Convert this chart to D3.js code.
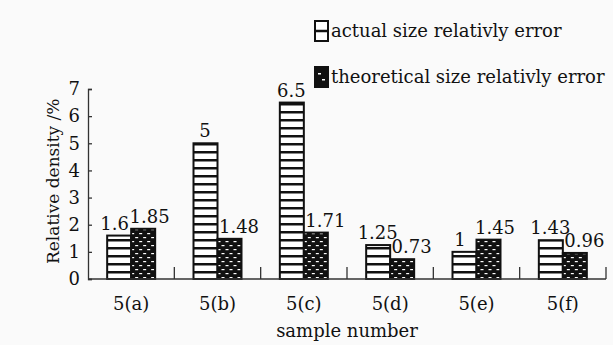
<!DOCTYPE html>
<html>
<head>
<meta charset="utf-8">
<script src="https://cdn.jsdelivr.net/npm/d3@7"></script>
<style>
  body { margin: 0; background: #fafafa; }
  svg { display: block; font-family: 'DejaVu Serif', serif; }
</style>
</head>
<body>
<div id="chart"></div>
<script>
const categories = ['5(a)', '5(b)', '5(c)', '5(d)', '5(e)', '5(f)'];
const actualErr = [1.6, 5, 6.5, 1.25, 1, 1.43];
const theoreticalErr = [1.85, 1.48, 1.71, 0.73, 1.45, 0.96];
const seriesNames = ['actual size relativly error', 'theoretical size relativly error'];
const yTicks = [0, 1, 2, 3, 4, 5, 6, 7];

const width = 613, height = 345;
const margin = { top: 89, right: 7, bottom: 66, left: 88 };
const fs = 18;

const svg = d3.select('#chart').append('svg')
  .attr('width', width)
  .attr('height', height);

svg.append('rect').attr('width', width).attr('height', height).attr('fill', '#fafafa');

const defs = svg.append('defs');

// horizontal stripes for the actual series
const stripes = defs.append('pattern')
  .attr('id', 'stripes')
  .attr('patternUnits', 'userSpaceOnUse')
  .attr('x', 0).attr('y', height - margin.bottom)
  .attr('width', 8).attr('height', 8);
stripes.append('rect').attr('width', 8).attr('height', 8).attr('fill', '#fff');
stripes.append('rect').attr('y', 0).attr('width', 8).attr('height', 2.5).attr('fill', '#111');

// black with little white dashes for the theoretical series
const dots = defs.append('pattern')
  .attr('id', 'dots')
  .attr('patternUnits', 'userSpaceOnUse')
  .attr('x', 0).attr('y', 0)
  .attr('width', 8).attr('height', 8);
dots.append('rect').attr('width', 8).attr('height', 8).attr('fill', '#111');
dots.append('rect').attr('x', 1).attr('y', 1).attr('width', 3).attr('height', 1.2).attr('fill', '#fff');
dots.append('rect').attr('x', 5).attr('y', 5).attr('width', 3).attr('height', 1.2).attr('fill', '#fff');

const x = d3.scaleBand()
  .domain(categories)
  .range([margin.left, width - margin.right]);

const x1 = d3.scaleBand()
  .domain([0, 1])
  .range([0, 50]);

const y = d3.scaleLinear()
  .domain([0, 7])
  .range([height - margin.bottom, margin.top]);

const g = svg.append('g');

const groups = g.selectAll('.grp')
  .data(categories)
  .enter().append('g')
  .attr('class', 'grp')
  .attr('transform', d => 'translate(' + (x(d) + x.bandwidth() / 2 - 25) + ',0)');

// actual bars
groups.append('rect')
  .attr('x', x1(0) + 1)
  .attr('y', (d, i) => y(actualErr[i]))
  .attr('width', x1.bandwidth() - 1)
  .attr('height', (d, i) => y(0) - y(actualErr[i]))
  .attr('fill', 'url(#stripes)')
  .attr('stroke', '#111')
  .attr('stroke-width', 2);

// theoretical bars
groups.append('rect')
  .attr('x', x1(1))
  .attr('y', (d, i) => y(theoreticalErr[i]))
  .attr('width', x1.bandwidth() - 1)
  .attr('height', (d, i) => y(0) - y(theoreticalErr[i]))
  .attr('fill', 'url(#dots)')
  .attr('stroke', '#111')
  .attr('stroke-width', 2);

// value labels: nudge apart when the two labels would sit side by side
const close = i => Math.abs(y(theoreticalErr[i]) - y(actualErr[i])) < fs;
const lower = i => theoreticalErr[i] < actualErr[i];

groups.append('text')
  .attr('x', (d, i) => x1(0) + x1.bandwidth() / 2 - (close(i) && !lower(i) ? 4 : 0))
  .attr('y', (d, i) => y(actualErr[i]) - 6)
  .attr('text-anchor', 'middle')
  .attr('font-size', fs)
  .attr('fill', '#111')
  .text((d, i) => actualErr[i]);

groups.append('text')
  .attr('x', (d, i) => x1(1) + x1.bandwidth() / 2 + (lower(i) ? 9 : (close(i) ? 6 : 0)))
  .attr('y', (d, i) => y(theoreticalErr[i]) - 6)
  .attr('text-anchor', 'middle')
  .attr('font-size', fs)
  .attr('fill', '#111')
  .text((d, i) => theoreticalErr[i]);

// x axis
const xAxis = d3.axisTop(x).tickSize(12).tickFormat('');
const xg = svg.append('g')
  .attr('transform', 'translate(0,' + y(0) + ')')
  .call(xAxis);
xg.selectAll('.tick').attr('transform', d => 'translate(' + (x(d) + x.bandwidth()) + ',0)');
xg.select('.domain').attr('d', 'M' + margin.left + ',0H' + (width - margin.right)).attr('stroke', '#333').attr('stroke-width', 1.3);
xg.selectAll('.tick line').attr('stroke', '#333').attr('stroke-width', 1.3);

svg.append('g').selectAll('text')
  .data(categories)
  .enter().append('text')
  .attr('x', d => x(d) + x.bandwidth() / 2)
  .attr('y', y(0) + 31)
  .attr('text-anchor', 'middle')
  .attr('font-size', fs)
  .attr('fill', '#111')
  .text(d => d);

// y axis
const yAxis = d3.axisRight(y).tickValues(yTicks).tickSize(4).tickSizeOuter(4).tickFormat(d3.format('d'));
const yg = svg.append('g')
  .attr('transform', 'translate(' + margin.left + ',0)')
  .call(yAxis);
yg.select('.domain').attr('stroke', '#333').attr('stroke-width', 1.3);
yg.selectAll('.tick line').attr('stroke', '#333').attr('stroke-width', 1.3);
yg.selectAll('.tick text')
  .attr('x', -8)
  .attr('text-anchor', 'end')
  .attr('font-family', 'DejaVu Serif, serif')
  .attr('font-size', fs)
  .attr('fill', '#111');

// axis titles
svg.append('text')
  .attr('x', x.range()[0] + (x.range()[1] - x.range()[0]) / 2)
  .attr('y', 337)
  .attr('text-anchor', 'middle')
  .attr('font-size', fs)
  .attr('fill', '#111')
  .text('sample number');

svg.append('text')
  .attr('transform', 'translate(59,' + y(3.6) + ') rotate(-90)')
  .attr('text-anchor', 'middle')
  .attr('font-size', 17)
  .attr('fill', '#111')
  .text('Relative density /%');

// legend
const legend = svg.append('g').attr('transform', 'translate(314,20)');
seriesNames.forEach((name, i) => {
  const row = legend.append('g').attr('transform', 'translate(0,' + i * 46 + ')');
  row.append('rect')
    .attr('x', 1).attr('y', 1)
    .attr('width', 13).attr('height', 20)
    .attr('fill', i === 0 ? '#fff' : '#111')
    .attr('stroke', '#111').attr('stroke-width', 2);
  if (i === 0) {
    row.append('line').attr('x1', 1).attr('x2', 14).attr('y1', 11).attr('y2', 11).attr('stroke', '#111').attr('stroke-width', 2.5);
  } else {
    row.append('rect').attr('x', 4).attr('y', 7).attr('width', 3).attr('height', 1.5).attr('fill', '#fff');
    row.append('rect').attr('x', 8).attr('y', 13).attr('width', 3).attr('height', 1.5).attr('fill', '#fff');
  }
  row.append('text')
    .attr('x', 17)
    .attr('y', 17)
    .attr('font-size', fs)
    .attr('fill', '#111')
    .text(name);
});
</script>
</body>
</html>
